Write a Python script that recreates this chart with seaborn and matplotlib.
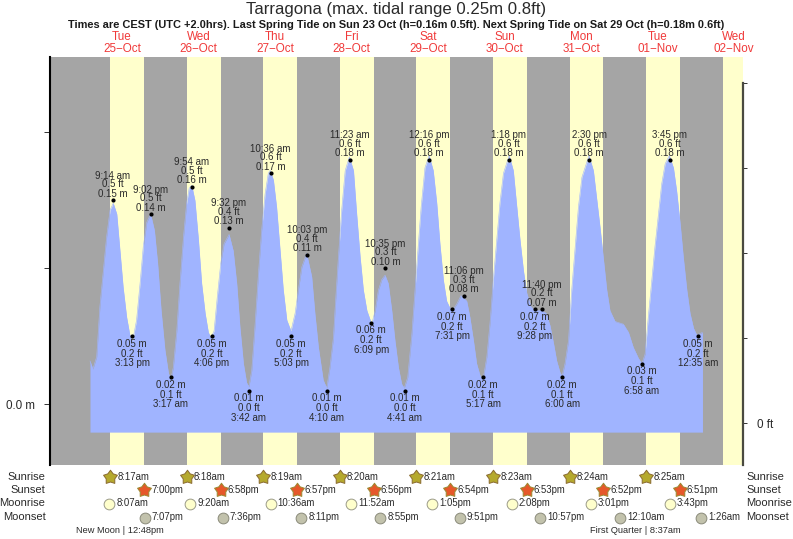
import matplotlib
matplotlib.use("Agg")
import matplotlib.pyplot as plt
from matplotlib.path import Path
from matplotlib.markers import MarkerStyle
import seaborn as sns
import pandas as pd

TITLE = "Tarragona (max. tidal range 0.25m 0.8ft)"
SUBTITLE = ("Times are CEST (UTC +2.0hrs). Last Spring Tide on Sun 23 Oct (h=0.16m 0.5ft). "
            "Next Spring Tide on Sat 29 Oct (h=0.18m 0.6ft)")
weekdays = ["Tue", "Wed", "Thu", "Fri", "Sat", "Sun", "Mon", "Tue", "Wed"]
dates = ["25\u2212Oct", "26\u2212Oct", "27\u2212Oct", "28\u2212Oct", "29\u2212Oct",
         "30\u2212Oct", "31\u2212Oct", "01\u2212Nov", "02\u2212Nov"]

# tide curve: hours after 25 Oct 00:00, metres
tide_hours = [2.0, 2.9, 4.1, 5.1, 6.2, 7.2, 8.3, 9.3, 10.4, 11.4, 12.4, 13.5, 14.5, 15.4, 16.6, 17.7, 18.7,
              19.8, 21.0, 22.2, 23.2, 24.3, 25.5, 26.6, 27.3, 28.1, 29.2, 30.2, 31.3, 32.3, 33.1, 33.9, 34.9,
              36.0, 37.0, 38.1, 39.1, 39.9, 40.9, 41.9, 43.0, 44.0, 45.6, 46.9, 48.0, 49.0, 50.1, 51.1, 51.8,
              52.7, 53.7, 54.8, 55.8, 56.9, 57.9, 58.5, 59.5, 60.5, 61.6, 62.6, 63.7, 65.0, 66.3, 67.3, 68.4,
              69.9, 71.5, 72.5, 73.6, 75.1, 76.2, 77.2, 78.3, 78.8, 79.8, 80.9, 82.0, 83.3, 84.6, 85.6, 86.7,
              87.7, 88.8, 90.3, 91.4, 92.4, 93.5, 94.5, 95.5, 96.6, 97.6, 98.7, 99.7, 100.5, 101.6, 102.9,
              104.4, 105.8, 107.0, 108.3, 109.6, 110.7, 111.7, 112.8, 113.8, 115.4, 117.0, 118.3, 120.1,
              121.1, 122.2, 123.2, 124.3, 125.2, 126.4, 127.4, 128.4, 129.5, 130.5, 131.6, 133.4, 134.7,
              135.8, 136.8, 137.9, 138.9, 140.2, 141.4, 143.6, 145.0, 146.2, 147.3, 148.3, 149.4, 150.0,
              150.9, 152.0, 153.0, 154.1, 155.1, 156.2, 158.4, 159.8, 160.9, 161.9, 162.9, 164.0, 165.0,
              166.6, 169.2, 170.8, 172.3, 173.9, 175.0, 176.0, 177.0, 178.1, 179.1, 180.2, 181.2, 182.3,
              183.6, 184.9, 185.9, 187.0, 188.0, 189.1, 190.1, 191.2, 192.2, 193.2, 194.0]
tide_metres = [0.032, 0.026, 0.035, 0.072, 0.099, 0.123, 0.143, 0.148, 0.140, 0.113, 0.086, 0.064, 0.051, 0.047,
               0.062, 0.089, 0.116, 0.134, 0.140, 0.128, 0.104, 0.069, 0.040, 0.023, 0.018, 0.027, 0.054, 0.089,
               0.123, 0.148, 0.159, 0.161, 0.150, 0.121, 0.089, 0.067, 0.053, 0.049, 0.054, 0.079, 0.104, 0.118,
               0.125, 0.113, 0.089, 0.057, 0.030, 0.016, 0.013, 0.025, 0.057, 0.096, 0.128, 0.155, 0.170, 0.172,
               0.165, 0.145, 0.113, 0.084, 0.062, 0.054, 0.067, 0.084, 0.101, 0.111, 0.094, 0.067, 0.042, 0.018,
               0.012, 0.027, 0.049, 0.069, 0.106, 0.143, 0.172, 0.182, 0.172, 0.140, 0.108, 0.084, 0.069, 0.059,
               0.069, 0.084, 0.092, 0.095, 0.089, 0.069, 0.047, 0.027, 0.015, 0.012, 0.020, 0.052, 0.101, 0.145,
               0.174, 0.183, 0.172, 0.148, 0.118, 0.091, 0.076, 0.068, 0.074, 0.080, 0.076, 0.064, 0.047, 0.030,
               0.021, 0.018, 0.035, 0.060, 0.091, 0.121, 0.148, 0.170, 0.183, 0.172, 0.145, 0.121, 0.098, 0.082,
               0.072, 0.069, 0.069, 0.067, 0.058, 0.045, 0.032, 0.023, 0.021, 0.030, 0.047, 0.084, 0.116, 0.145,
               0.167, 0.183, 0.172, 0.150, 0.130, 0.108, 0.084, 0.069, 0.061, 0.059, 0.053, 0.042, 0.034, 0.030,
               0.037, 0.064, 0.091, 0.116, 0.140, 0.162, 0.177, 0.183, 0.174, 0.157, 0.133, 0.108, 0.084, 0.067,
               0.056, 0.051, 0.052, 0.053]
tide_floor = -0.0204

# labelled high and low waters
event_day = [0, 0, 0, 1, 1, 1, 1, 2, 2, 2, 2, 3, 3, 3, 3, 4, 4, 4, 4, 5, 5, 5, 5, 6, 6, 7, 7, 8]
event_time = ["9:14 am", "3:13 pm", "9:02 pm", "3:17 am", "9:54 am", "4:06 pm", "9:32 pm", "3:42 am", "10:36 am",
              "5:03 pm", "10:03 pm", "4:10 am", "11:23 am", "6:09 pm", "10:35 pm", "4:41 am", "12:16 pm", "7:31 pm",
              "11:06 pm", "5:17 am", "1:18 pm", "9:28 pm", "11:40 pm", "6:00 am", "2:30 pm", "6:58 am", "3:45 pm",
              "12:35 am"]
event_m = [0.15, 0.05, 0.14, 0.02, 0.16, 0.05, 0.13, 0.01, 0.17, 0.05, 0.11, 0.01, 0.18, 0.06, 0.10, 0.01, 0.18,
           0.07, 0.08, 0.02, 0.18, 0.07, 0.07, 0.02, 0.18, 0.03, 0.18, 0.05]
event_ft = [0.5, 0.2, 0.5, 0.1, 0.5, 0.2, 0.4, 0.0, 0.6, 0.2, 0.4, 0.0, 0.6, 0.2, 0.3, 0.0, 0.6, 0.2, 0.3, 0.1,
            0.6, 0.2, 0.2, 0.1, 0.6, 0.1, 0.6, 0.2]

sunrise = ["8:17am", "8:18am", "8:19am", "8:20am", "8:21am", "8:23am", "8:24am", "8:25am"]
sunset = ["7:00pm", "6:58pm", "6:57pm", "6:56pm", "6:54pm", "6:53pm", "6:52pm", "6:51pm"]
next_sunrise = "8:26am"
moonrise = ["8:07am", "9:20am", "10:36am", "11:52am", "1:05pm", "2:08pm", "3:01pm", "3:43pm"]
moonset = ["7:07pm", "7:36pm", "8:11pm", "8:55pm", "9:51pm", "10:57pm", "12:10am", "1:26am"]
moonset_day = [0, 1, 2, 3, 4, 5, 7, 8]
moon_phases = ["New Moon | 12:48pm", "First Quarter | 8:37am"]


def hours(label, day):
    t = label.replace(" ", "")
    hh, mm = t[:-2].split(":")
    h = int(hh) % 12 + int(mm) / 60
    if t.endswith("pm"):
        h += 12
    return day * 24 + h


GREY, YELLOW, BLUE, RED, INK = "#a5a5a5", "#ffffcc", "#a0b4ff", "#f03a3a", "#2a2a2a"
W, H = 793, 539
PLOT_L, PLOT_R, PLOT_T, PLOT_B = 49.5, 743.0, 57.3, 465.3

sns.set_theme(style="ticks")
plt.rcParams["font.family"] = ["Liberation Sans", "DejaVu Sans"]
plt.rcParams["axes.unicode_minus"] = True

fig = plt.figure(figsize=(W / 100, H / 100), dpi=100, facecolor="white")
ax = fig.add_axes([PLOT_L / W, 1 - PLOT_B / H, (PLOT_R - PLOT_L) / W, (PLOT_B - PLOT_T) / H])
ax.set_facecolor(GREY)
ax.set_xlim(-10.69, 206.7)
ax.set_ylim(-0.0448, 0.2553)

for d, (a, b) in enumerate(zip(sunrise, sunset)):
    ax.axvspan(hours(a, d), hours(b, d), color=YELLOW, lw=0, zorder=1)
ax.axvspan(hours(next_sunrise, 8), 206.7, color=YELLOW, lw=0, zorder=1)

curve = pd.DataFrame({"hour": tide_hours, "metres": tide_metres})
ax.fill_between(curve["hour"], tide_floor, curve["metres"], color=BLUE, lw=0, zorder=2)
sns.lineplot(data=curve, x="hour", y="metres", color=BLUE, lw=0.4, estimator=None, sort=False, ax=ax, zorder=2.1)

events = pd.DataFrame({"hour": [hours(t, d) for t, d in zip(event_time, event_day)], "metres": event_m})
sns.scatterplot(data=events, x="hour", y="metres", color="black", s=9, linewidth=0, ax=ax, zorder=4, legend=False)

LBL = dict(ha="center", va="center", fontsize=7.05, color=INK, textcoords="offset points", zorder=5)
PX = 0.72
for i, (hr, m, ft, tm) in enumerate(zip(events["hour"], event_m, event_ft, event_time)):
    if i % 2 == 0:
        lines, offs = [tm, f"{ft:.1f} ft", f"{m:.2f} m"], [24.5, 16, 6.5]
    else:
        lines, offs = [f"{m:.2f} m", f"{ft:.1f} ft", tm], [-7.5, -17.5, -27]
    for txt, o in zip(lines, offs):
        ax.annotate(txt, (hr, m), xytext=(0, o * PX), **LBL)

for s in ("top", "right", "bottom"):
    ax.spines[s].set_visible(False)
ax.spines["left"].set_color("black")
ax.spines["left"].set_linewidth(1.5)
ax.set_xticks([])
ax.set_xlabel("")
ax.set_ylabel("")
ax.set_yticks([0.0, 0.1, 0.2])
ax.set_yticklabels(["0.0 m", "", ""], fontsize=8.4, color=INK)
ax.tick_params(axis="y", length=4, width=0.7, color="#333333", pad=6.7)

ax2 = ax.twinx()
ax2.set_ylim(-42.3 / 425, 365.7 / 425)
ax2.set_yticks([0.0, 0.2, 0.4, 0.6, 0.8])
ax2.set_yticklabels(["0 ft", "", "", "", ""], fontsize=8.4, color=INK)
ax2.tick_params(axis="y", length=3, width=0.7, color="#333333", pad=7)
for s in ("top", "left", "bottom"):
    ax2.spines[s].set_visible(False)
ax2.spines["right"].set_color("#4a4a40")
ax2.spines["right"].set_linewidth(1.6)
ax2.spines["right"].set_bounds(-42.3 / 425, 0.8)
ax2.set_facecolor("none")


def fig_text(xp, yp, s, **kw):
    fig.text(xp / W, 1 - yp / H, s, va="center", **kw)


fig_text(396.5, 9.5, TITLE, ha="center", fontsize=12.1, color=INK)
fig_text(396, 25, SUBTITLE, ha="center", fontsize=7.88, color="#1a1a1a", fontweight="bold")

for i, (wd, dt) in enumerate(zip(weekdays, dates)):
    xp = 122 + i * 76.5
    fig_text(xp, 37.5, wd, ha="center", fontsize=8.4, color=RED)
    fig_text(xp, 49.5, dt, ha="center", fontsize=8.4, color=RED)

ROW_Y = {"Sunrise": 476.5, "Sunset": 490, "Moonrise": 503.5, "Moonset": 517.5}
for name, yp in ROW_Y.items():
    fig_text(45.5, yp, name, ha="right", fontsize=8, color=INK)
    fig_text(746.5, yp, name, ha="left", fontsize=8, color=INK)

fat_star = MarkerStyle(Path.unit_regular_star(5, innerCircle=0.62))
xform = ax.get_xaxis_transform()


def row(xs, labels, name, marker, face, edge, size, lw):
    y = (PLOT_B - ROW_Y[name]) / (PLOT_B - PLOT_T)
    tbl = pd.DataFrame({"hour": xs, "row": [y] * len(xs)})
    sns.scatterplot(data=tbl, x="hour", y="row", marker=marker, color=face, edgecolor=edge, s=size, linewidth=lw,
                    transform=xform, clip_on=False, ax=ax, legend=False, zorder=6)
    for x, lab in zip(xs, labels):
        ax.annotate(lab, (x, y), xycoords=xform, xytext=(5.2, 0), textcoords="offset points", ha="left", va="center",
                    fontsize=6.95, color=INK, annotation_clip=False)


row([hours(t, i) for i, t in enumerate(sunrise)], sunrise, "Sunrise", fat_star, "#b5a92e", "#8a6a30", 110, 0.7)
row([hours(t, i) for i, t in enumerate(sunset)], sunset, "Sunset", fat_star, "#e6582a", "#9a8a30", 110, 0.7)
row([hours(t, i) for i, t in enumerate(moonrise)], moonrise, "Moonrise", "o", "#ffffcc", "#9a9a88", 60, 0.7)
row([hours(t, d) for t, d in zip(moonset, moonset_day)], moonset, "Moonset", "o", "#c2c2ac", "#8a8a7a", 60, 0.7)

ax.set_xlabel("")
ax.set_ylabel("")
ax.set_xlim(-10.69, 206.7)
ax.set_ylim(-0.0448, 0.2553)

fig_text(120, 530.5, moon_phases[0], ha="center", fontsize=6.7, color=INK)
fig_text(635.5, 530.5, moon_phases[1], ha="center", fontsize=6.7, color=INK)

fig.savefig("out.png", dpi=100, facecolor="white")
